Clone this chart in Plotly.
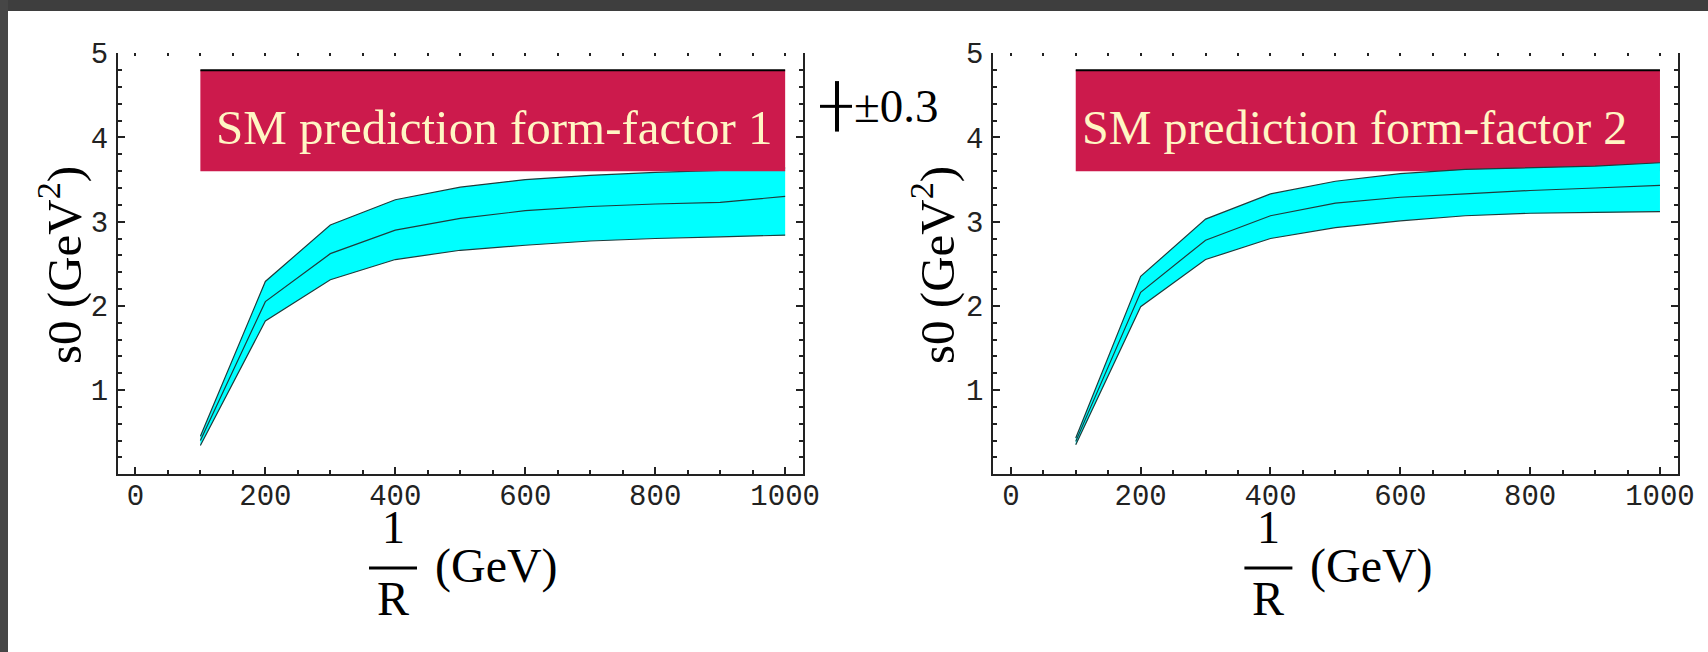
import plotly.graph_objects as go

# ---------------- data ----------------
R_INV = [100, 200, 300, 400, 500, 600, 700, 800, 900, 1000]

FF1_UPPER = [0.45, 2.29, 2.96, 3.26, 3.41, 3.50, 3.55, 3.585, 3.61, 3.64]
FF1_CENTER = [0.40, 2.05, 2.62, 2.90, 3.04, 3.13, 3.18, 3.21, 3.23, 3.30]
FF1_LOWER = [0.34, 1.82, 2.31, 2.55, 2.66, 2.72, 2.77, 2.80, 2.82, 2.84]

FF2_UPPER = [0.43, 2.35, 3.03, 3.33, 3.48, 3.57, 3.62, 3.64, 3.66, 3.70]
FF2_CENTER = [0.39, 2.16, 2.78, 3.07, 3.22, 3.29, 3.33, 3.37, 3.40, 3.43]
FF2_LOWER = [0.35, 1.99, 2.55, 2.80, 2.93, 3.01, 3.07, 3.10, 3.11, 3.12]

SM_BOX_X = [100, 1000]
SM_BOX_Y = [3.6, 4.8]
SM_LABELS = ["SM prediction form-factor 1", "SM prediction form-factor 2"]

ERR_CENTER = 4.37
ERR_HALF = 0.3
ERR_LABEL = "\u00b10.3"

X_TICKS = [0, 200, 400, 600, 800, 1000]
X_TICK_TEXT = ["0", "200", "400", "600", "800", "1000"]
Y_TICKS = [1, 2, 3, 4, 5]
Y_TICK_TEXT = ["1", "2", "3", "4", "5"]
X_TOP_TICKS = list(range(0, 1001, 50))

X_RANGE = [-27, 1027]
Y_RANGE = [0, 5]

# ---------------- layout geometry ----------------
W, H = 1708, 652
def pxx(p):
    return p / W
def pxy(p):
    return 1 - p / H

DOM_X1 = [pxx(117.85), pxx(802.7)]
DOM_X2 = [pxx(993.3), pxx(1677.5)]
DOM_Y = [pxy(474.2), pxy(53.3)]

INK = "#222222"
BAND_LINE = "#1e3c3c"
CYAN = "#00FFFF"
CRIMSON = "#CC1A4C"
CREAM = "#FFF6C4"
SERIF = "Liberation Serif, Times New Roman, serif"
MONO = "Liberation Mono, Courier New, monospace"

fig = go.Figure()

def add_band(xa, ya, upper, center, lower):
    fig.add_trace(go.Scatter(x=R_INV, y=lower, mode="lines", xaxis=xa, yaxis=ya,
                             line=dict(color=BAND_LINE, width=1.2), showlegend=False,
                             hoverinfo="skip"))
    fig.add_trace(go.Scatter(x=R_INV, y=upper, mode="lines", xaxis=xa, yaxis=ya,
                             fill="tonexty", fillcolor=CYAN,
                             line=dict(color=BAND_LINE, width=1.2), showlegend=False,
                             hoverinfo="skip"))
    fig.add_trace(go.Scatter(x=R_INV, y=center, mode="lines", xaxis=xa, yaxis=ya,
                             line=dict(color=BAND_LINE, width=1.2), showlegend=False,
                             hoverinfo="skip"))

add_band("x", "y", FF1_UPPER, FF1_CENTER, FF1_LOWER)
add_band("x2", "y2", FF2_UPPER, FF2_CENTER, FF2_LOWER)

# empty traces so overlay axes are registered
for xa, ya in [("x3", "y"), ("x4", "y2"), ("x", "y3"), ("x2", "y4")]:
    fig.add_trace(go.Scatter(x=[None], y=[None], xaxis=xa, yaxis=ya, showlegend=False,
                             hoverinfo="skip"))

# SM prediction boxes
for xr, yr, layer in [("x", "y", "above"), ("x2", "y2", "below")]:
    fig.add_shape(type="rect", xref=xr, yref=yr, x0=SM_BOX_X[0], x1=SM_BOX_X[1],
                  y0=SM_BOX_Y[0], y1=SM_BOX_Y[1], fillcolor=CRIMSON,
                  line=dict(width=0), layer=layer)
    fig.add_shape(type="line", xref=xr, yref=yr, x0=SM_BOX_X[0], x1=SM_BOX_X[1],
                  y0=SM_BOX_Y[1], y1=SM_BOX_Y[1], line=dict(color="black", width=2),
                  layer=layer)

fig.add_annotation(x=121, y=4.12, xref="x", yref="y", text=SM_LABELS[0],
                   showarrow=False, xanchor="left", yanchor="middle",
                   font=dict(family=SERIF, size=49, color=CREAM))
fig.add_annotation(x=107, y=4.12, xref="x2", yref="y2", text=SM_LABELS[1],
                   showarrow=False, xanchor="left", yanchor="middle",
                   font=dict(family=SERIF, size=48, color=CREAM))

# axes
def xaxis_cfg(domain):
    return dict(domain=domain, range=X_RANGE, tickvals=X_TICKS, ticktext=X_TICK_TEXT,
                ticks="inside", ticklen=7, tickwidth=1.5, tickcolor=INK,
                showline=True, linewidth=2, linecolor=INK, showgrid=False, zeroline=False,
                minor=dict(tick0=0, dtick=50, ticks="inside", ticklen=4, tickwidth=1.5,
                           tickcolor=INK, showgrid=False),
                tickfont=dict(family=MONO, size=29, color=INK), ticklabelstandoff=-6,
                automargin=False)

def yaxis_cfg(anchor):
    return dict(domain=DOM_Y, range=Y_RANGE, tickvals=Y_TICKS, ticktext=Y_TICK_TEXT,
                anchor=anchor, ticks="inside", ticklen=7, tickwidth=1.5, tickcolor=INK,
                showline=True, linewidth=2, linecolor=INK, showgrid=False, zeroline=False,
                minor=dict(tick0=0, dtick=0.2, ticks="inside", ticklen=4, tickwidth=1.5,
                           tickcolor=INK, showgrid=False),
                tickfont=dict(family=MONO, size=29, color=INK), ticklabelstandoff=2,
                automargin=False)

def top_cfg(over, anchor):
    return dict(overlaying=over, anchor=anchor, side="top", range=X_RANGE,
                tickvals=X_TOP_TICKS, ticks="inside", ticklen=3, tickwidth=1.5,
                tickcolor=INK, showline=False, showticklabels=False, showgrid=False,
                zeroline=False, automargin=False)

def right_cfg(over, anchor):
    return dict(overlaying=over, anchor=anchor, side="right", range=Y_RANGE,
                tickvals=Y_TICKS, ticks="inside", ticklen=7, tickwidth=1.5, tickcolor=INK,
                showline=True, linewidth=2, linecolor=INK, showticklabels=False,
                showgrid=False, zeroline=False, automargin=False,
                minor=dict(tick0=0, dtick=0.2, ticks="inside", ticklen=4, tickwidth=1.5,
                           tickcolor=INK, showgrid=False))

fig.update_layout(
    xaxis=dict(anchor="y", **xaxis_cfg(DOM_X1)),
    yaxis=yaxis_cfg("x"),
    xaxis2=dict(anchor="y2", **xaxis_cfg(DOM_X2)),
    yaxis2=yaxis_cfg("x2"),
    xaxis3=top_cfg("x", "y"),
    xaxis4=top_cfg("x2", "y2"),
    yaxis3=right_cfg("y", "x"),
    yaxis4=right_cfg("y2", "x2"),
)

# axis titles
for off in (0.0, 875.4):
    fig.add_annotation(x=pxx(393 + off), y=pxy(527), xref="paper", yref="paper", text="1",
                       showarrow=False, xanchor="center", yanchor="middle",
                       font=dict(family=SERIF, size=46, color="black"))
    fig.add_annotation(x=pxx(393 + off), y=pxy(598), xref="paper", yref="paper", text="R",
                       showarrow=False, xanchor="center", yanchor="middle",
                       font=dict(family=SERIF, size=48, color="black"))
    fig.add_annotation(x=pxx(496 + off), y=pxy(566), xref="paper", yref="paper",
                       text="(GeV)", showarrow=False, xanchor="center", yanchor="middle",
                       font=dict(family=SERIF, size=48, color="black"))
    fig.add_shape(type="line", xref="paper", yref="paper", x0=pxx(369 + off),
                  x1=pxx(417 + off), y0=pxy(568), y1=pxy(568),
                  line=dict(color="black", width=3))

for xc in (60, 933):
    fig.add_annotation(x=pxx(xc), y=pxy(265), xref="paper", yref="paper",
                       text="s0 (GeV<sup>2</sup>)", textangle=-90, showarrow=False,
                       xanchor="center", yanchor="middle",
                       font=dict(family=SERIF, size=49, color="black"))

# error-bar legend (+ ±0.3)
def y_to_paper(v):
    return DOM_Y[0] + (v - Y_RANGE[0]) / (Y_RANGE[1] - Y_RANGE[0]) * (DOM_Y[1] - DOM_Y[0])

fig.add_shape(type="line", xref="paper", yref="paper", x0=pxx(837), x1=pxx(837),
              y0=y_to_paper(ERR_CENTER - ERR_HALF), y1=y_to_paper(ERR_CENTER + ERR_HALF),
              line=dict(color="black", width=4))
fig.add_shape(type="line", xref="paper", yref="paper", x0=pxx(820), x1=pxx(852),
              y0=y_to_paper(ERR_CENTER), y1=y_to_paper(ERR_CENTER),
              line=dict(color="black", width=3))
fig.add_annotation(x=pxx(852), y=y_to_paper(ERR_CENTER), xref="paper", yref="paper",
                   text=ERR_LABEL, showarrow=False, xanchor="left", yanchor="middle",
                   font=dict(family=SERIF, size=47, color="black"))

# dark frame of the slide
fig.add_shape(type="rect", xref="paper", yref="paper", x0=0, x1=1, y0=pxy(11), y1=1,
              fillcolor="#3e3e3e", line=dict(width=0), layer="above")
fig.add_shape(type="rect", xref="paper", yref="paper", x0=0, x1=pxx(8), y0=0, y1=1,
              fillcolor="#464646", line=dict(width=0), layer="above")

fig.update_layout(width=W, height=H, margin=dict(l=0, r=0, t=0, b=0, pad=0),
                  paper_bgcolor="white", plot_bgcolor="white", showlegend=False)

fig.write_html("out.html")
